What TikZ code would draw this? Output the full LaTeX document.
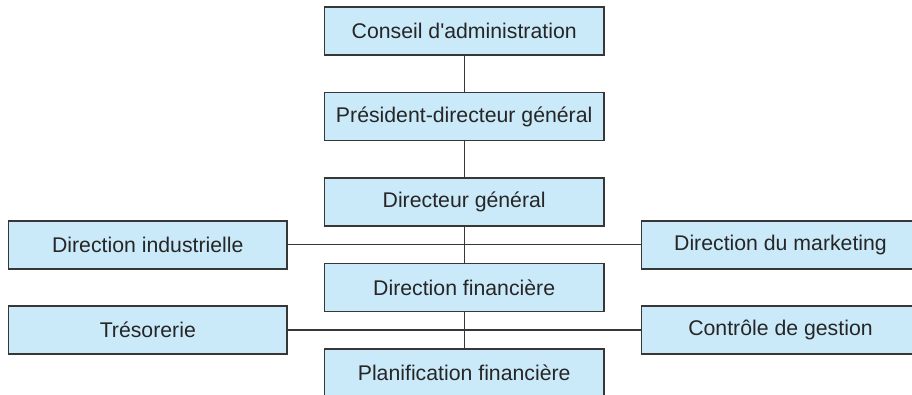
\documentclass[tikz,border=0pt]{standalone}
\usepackage{fontspec}
\setmainfont{Liberation Sans}
\usepackage{tikz}

\definecolor{boxfill}{RGB}{202,234,249}
\definecolor{boxline}{RGB}{55,55,55}

\tikzset{
  orgbox/.style={draw=boxline, fill=boxfill, line width=0.8pt, rectangle,
    minimum width=5.59cm, minimum height=0.96cm, inner sep=0pt,
    font=\fontsize{12.1}{14}\selectfont, text=black!85},
  orgline/.style={draw=boxline, line width=0.7pt}
}

\begin{document}
\begin{tikzpicture}[x=0.02cm, y=-0.02cm]
\useasboundingbox (0,0) rectangle (912,395);
\clip (0,0) rectangle (912,395);
\node[orgbox] (conseil) at (464.2,31) {Conseil d\textquotesingle administration};
\node[orgbox] (pdg) at (464.2,116.7) {Président-directeur général};
\node[orgbox] (dg) at (464.2,202) {Directeur général};
\node[orgbox] (dfin) at (464.2,287.3) {Direction financière};
\node[orgbox] (planif) at (464.2,373) {Planification financière};
\node[orgbox, minimum width=5.57cm] (indus) at (147.8,244.8) {Direction industrielle};
\node[orgbox, minimum width=5.57cm] (treso) at (147.8,329.9) {Trésorerie};
\node[orgbox, minimum width=5.57cm] (marketing) at (780.5,244.8) {Direction du marketing};
\node[orgbox, minimum width=5.57cm] (controle) at (780.5,329.9) {Contrôle de gestion};
\draw[orgline] (conseil) -- (pdg);
\draw[orgline] (pdg) -- (dg);
\draw[orgline] (dg) -- (dfin);
\draw[orgline] (dfin) -- (planif);
\draw[orgline] (indus) -- (marketing);
\draw[orgline] (treso) -- (controle);
\end{tikzpicture}
\end{document}
